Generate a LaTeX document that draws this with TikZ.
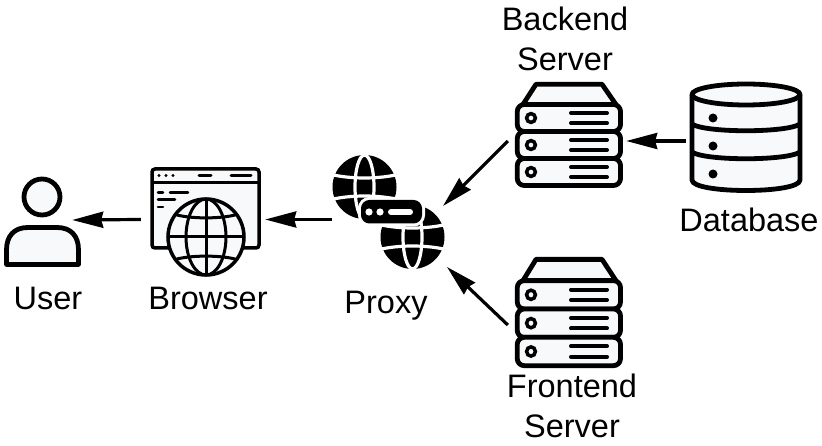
\documentclass[tikz,border=0pt]{standalone}
\usepackage{fontspec}
\setmainfont{Liberation Sans}
\usetikzlibrary{arrows.meta}
\definecolor{iconfill}{HTML}{F8F9FB}
\tikzset{
  x=1pt, y=-1pt,
  label/.style={anchor=base, align=center, inner sep=0pt, font=\fontsize{32.5}{40}\selectfont},
  anchorbox/.style={inner sep=0pt, minimum height=20pt},
  flow/.style={line width=3.2pt, -{Stealth[length=31pt,width=16pt,inset=2pt]}},
  heavy/.style={line width=4.8pt, draw=black, fill=iconfill, line join=round},
  serverrack/.pic={
    \draw[heavy] (21,2.25) -- (87,2.25) -- (102,24) -- (7,24) -- cycle;
    \foreach \row in {0,27,54} {
      \draw[heavy, rounded corners=7pt] (2.25,22.5+\row) rectangle (105.5,49.5+\row);
      \draw[line width=3.5pt] (16,36+\row) circle[radius=4.4];
      \draw[line width=4pt, line cap=round] (56,31+\row) -- (92,31+\row);
      \draw[line width=4pt, line cap=round] (56,41+\row) -- (92,41+\row);
    }
  },
  netglobe/.pic={
    \fill[black] (0,0) circle[radius=32];
    \draw[white, line width=3.2pt] (0,0) ellipse[x radius=9.5, y radius=32];
    \draw[white, line width=3.2pt] (-31,-12) .. controls (-12,-8) and (12,-8) .. (31,-12);
    \draw[white, line width=3.2pt] (-31,12) .. controls (-12,8) and (12,8) .. (31,12);
  },
}
\begin{document}
\begin{tikzpicture}
\useasboundingbox (0,0) rectangle (822,446);

% User
\draw[heavy] (42,197) circle[radius=18];
\draw[heavy] (6.5,264.5) -- (6.5,250) .. controls (6.5,236) and (14,227.5) .. (28,227.5) -- (57,227.5) .. controls (71,227.5) and (78.5,236) .. (78.5,250) -- (78.5,264.5) -- cycle;
\node[anchorbox, minimum width=60pt] (user) at (42,220) {};
\node[label] (userlabel) at (48,310) {User};

% Browser
\draw[line width=3.5pt, fill=iconfill, rounded corners=3pt] (152,169) rectangle (259,248);
\draw[line width=3pt] (152,182.5) -- (259,182.5);
\foreach \dotx in {159,166,173} \fill (\dotx,175.5) circle[radius=1.6];
\draw[line width=3pt, line cap=round] (199,175.5) -- (211,175.5);
\draw[line width=3pt, line cap=round] (231,175.5) -- (251,175.5);
\draw[line width=2.5pt, line cap=round] (158,192.5) -- (163,192.5);
\draw[line width=2.5pt, line cap=round] (170,192.5) -- (188,192.5);
\draw[line width=2.5pt, line cap=round] (158,199.5) -- (175,199.5);
\draw[line width=2.5pt, line cap=round] (158,207) -- (163,207);
\draw[line width=3.5pt, fill=iconfill] (206,237) circle[radius=38];
\draw[line width=3pt] (206,237) ellipse[x radius=20, y radius=38];
\draw[line width=3pt] (206,199) -- (206,275);
\draw[line width=3pt] (168,237) -- (244,237);
\draw[line width=3pt] (175.4,214.5) .. controls (190,219) and (222,219) .. (236.6,214.5);
\draw[line width=3pt] (175.4,259.5) .. controls (190,255) and (222,255) .. (236.6,259.5);
\node[anchorbox, minimum width=124pt] (browser) at (203,219.5) {};
\node[label] (browserlabel) at (208,310) {Browser};

% Proxy
\pic at (364.5,187) {netglobe};
\pic at (412.5,237) {netglobe};
\draw[black, fill=black, line width=1pt, rounded corners=8pt, preaction={draw=white, line width=7pt}] (361.5,200.5) rectangle (421.5,223);
\fill[white] (369,212) circle[radius=3.6];
\fill[white] (380,212) circle[radius=3.6];
\draw[white, line width=6pt, line cap=round] (391,212) -- (410,212);
\coordinate (proxyleft) at (332,219.5);
\coordinate (proxyback) at (443,206);
\coordinate (proxyfront) at (447,267);
\node[label] (proxylabel) at (386,314) {Proxy};

% Servers
\pic at (515,82) {serverrack};
\pic[yscale=1.05] at (515,257) {serverrack};
\node[anchorbox, minimum width=118pt] (backend) at (567,141) {};
\node[anchorbox, minimum width=118pt] (frontend) at (567,325) {};
\node[label] (backendlabel) at (565,71) {Backend\\Server};
\node[label] (frontendlabel) at (572,437) {Frontend\\Server};

% Database
\draw[heavy] (692,94.5) -- (692,180) .. controls (692,194) and (800,194) .. (800,180) -- (800,94.5);
\draw[heavy] (746,94.5) ellipse[x radius=54, y radius=10.5];
\draw[line width=4.8pt] (692,124) .. controls (705,133) and (787,133) .. (800,124);
\draw[line width=4.8pt] (692,152) .. controls (705,161) and (787,161) .. (800,152);
\foreach \doty in {118,146,174} \fill (713,\doty) circle[radius=4.5];
\node[anchorbox, minimum width=20pt] (database) at (696,141) {};
\node[label] (databaselabel) at (749,232) {Database};

% Connectors
\draw[flow] (browser.west) -- (user.east);
\draw[flow] (proxyleft) -- (browser.east);
\draw[flow] (backend.west) -- (proxyback);
\draw[flow] (frontend.west) -- (proxyfront);
\draw[flow] (database.west) -- (backend.east);
\end{tikzpicture}
\end{document}
